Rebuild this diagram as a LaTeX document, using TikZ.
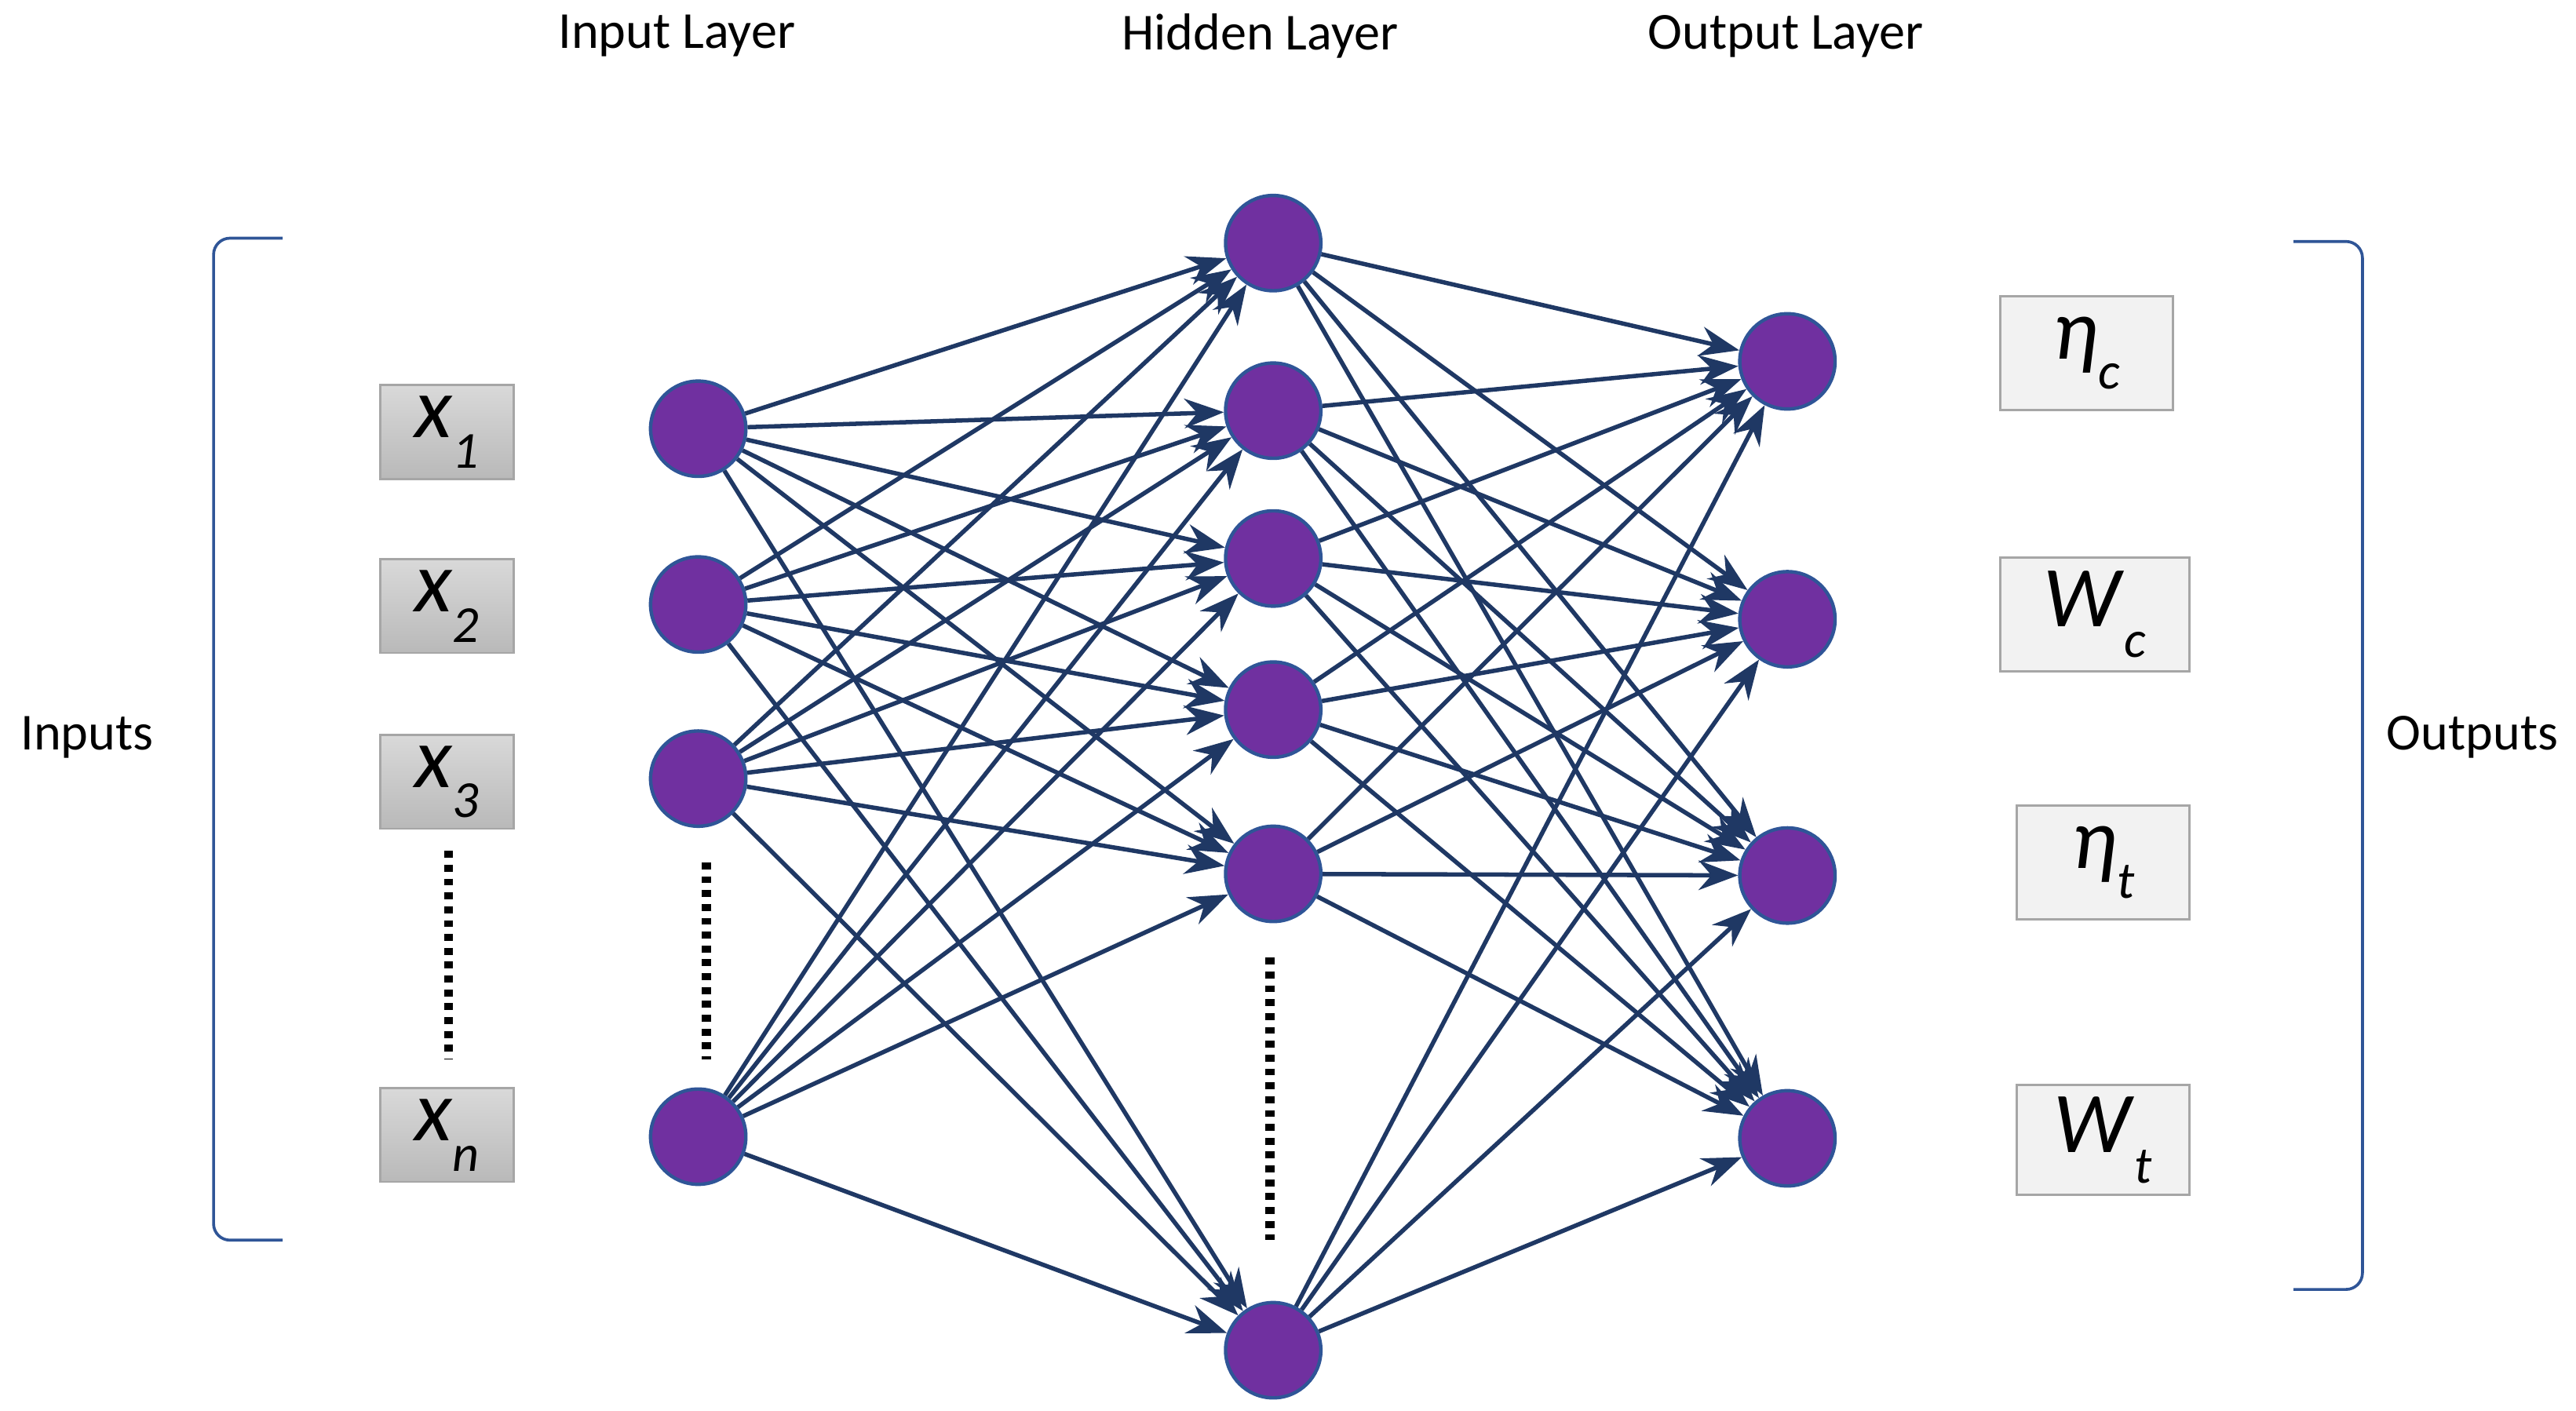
\documentclass[tikz,border=0pt]{standalone}
\usepackage{fontspec}
\setmainfont{Carlito}
\usetikzlibrary{arrows.meta}
\definecolor{navy}{HTML}{1F3864}
\definecolor{purp}{HTML}{7030A0}
\definecolor{edge}{HTML}{2F5597}
\newcommand{\lab}[2]{\textit{#1}\raisebox{-0.35em}{\fontsize{9}{10}\selectfont\textit{#2}}}
\begin{document}
\begin{tikzpicture}[x=0.1mm,y=-0.1mm,
  neuron/.style={circle,fill=purp,draw=edge,line width=0.6pt,minimum size=5.8mm,inner sep=0pt},
  inbox/.style={draw=gray!70,top color=gray!30,bottom color=gray!55,minimum width=8.1mm,minimum height=5.7mm,inner sep=0pt,font=\fontsize{15}{16}\selectfont},
  outbox/.style={draw=gray!70,fill=gray!10,minimum height=6.9mm,inner sep=0pt,font=\fontsize{15}{16}\selectfont},
  conn/.style={draw=navy,line width=0.75pt,-{Stealth[length=2.4mm,width=1.8mm]}},
  lbl/.style={font=\fontsize{9}{11}\selectfont},
  brk/.style={draw=edge,line width=0.5pt},
  dots/.style={draw=black,line width=1.6pt,dash pattern=on 1.2pt off 1.2pt}]
\useasboundingbox (0,0) rectangle (1568,859);
\node[lbl] (tl1) at (412,22) {Input Layer};
\node[lbl] (tl2) at (767,22) {Hidden Layer};
\node[lbl] (tl3) at (1087,22) {Output Layer};
\node[lbl] (tin) at (53,449) {Inputs};
\node[lbl] (tout) at (1505,449) {Outputs};
% brackets
\draw[brk] (172,145) -- (140,145) to[out=180,in=90] (130,155) -- (130,745) to[out=-90,in=180] (140,755) -- (172,755);
\draw[brk] (1396,147) -- (1428,147) to[out=0,in=90] (1438,157) -- (1438,775) to[out=-90,in=0] (1428,785) -- (1396,785);
% input boxes
\node[inbox] (x1) at (272,263) {\lab{x}{1}};
\node[inbox] (x2) at (272,369) {\lab{x}{2}};
\node[inbox] (x3) at (272,476) {\lab{x}{3}};
\node[inbox] (xn) at (272,691) {\lab{x}{n}};
% output boxes
\node[outbox,minimum width=10.5mm] (o1b) at (1270,215) {\lab{η}{c}};
\node[outbox,minimum width=11.5mm] (o2b) at (1275,374) {\lab{W}{c}};
\node[outbox,minimum width=10.5mm] (o3b) at (1280,525) {\lab{η}{t}};
\node[outbox,minimum width=10.5mm,minimum height=6.7mm] (o4b) at (1280,694) {\lab{W}{t}};
% dotted
\draw[dots] (273,518) -- (273,645);
\draw[dots] (430,525) -- (430,645);
\draw[dots] (773,583) -- (773,755);
% neurons
\foreach \n/\y in {1/261,2/368,3/474,4/692} \node[neuron] (i\n) at (425,\y) {};
\foreach \n/\y in {1/148,2/250,3/340,4/432,5/532,6/822} \node[neuron] (h\n) at (775,\y) {};
\foreach \n/\y in {1/220,2/377,3/533,4/693} \node[neuron] (o\n) at (1088,\y) {};
\foreach \a in {1,...,4}{\foreach \b in {1,...,6}{\draw[conn] (i\a.center) ++(0,0) (i\a) -- (h\b);}}
\foreach \a in {1,...,6}{\foreach \b in {1,...,4}{\draw[conn] (h\a) -- (o\b);}}
\end{tikzpicture}
\end{document}
